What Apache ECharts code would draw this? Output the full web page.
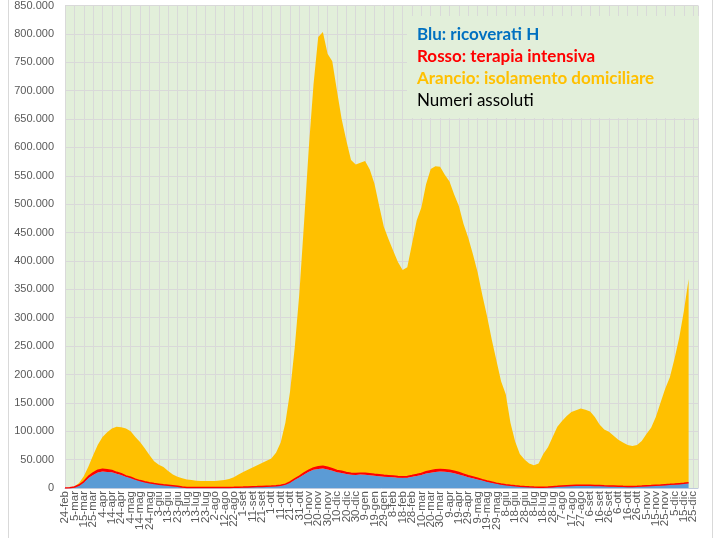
<!DOCTYPE html>
<html>
<head>
<meta charset="utf-8">
<script src="https://cdn.jsdelivr.net/npm/echarts@6/dist/echarts.min.js"></script>
<style>
  html, body { margin: 0; padding: 0; background: #fff; }
  #chart { width: 719px; height: 538px; }
</style>
</head>
<body>
<div id="chart"></div>
<script>
  // date ogni 5 giorni, 24-feb-2020 -> 30-dic-2021
  const categorie = ['24-feb','29-feb','5-mar','10-mar','15-mar','20-mar','25-mar','30-mar','4-apr','9-apr','14-apr','19-apr','24-apr','29-apr','4-mag','9-mag','14-mag','19-mag','24-mag','29-mag','3-giu','8-giu','13-giu','18-giu','23-giu','28-giu','3-lug','8-lug','13-lug','18-lug','23-lug','28-lug','2-ago','7-ago','12-ago','17-ago','22-ago','27-ago','1-set','6-set','11-set','16-set','21-set','26-set','1-ott','6-ott','11-ott','16-ott','21-ott','26-ott','31-ott','5-nov','10-nov','15-nov','20-nov','25-nov','30-nov','5-dic','10-dic','15-dic','20-dic','25-dic','30-dic',
    '4-gen','9-gen','14-gen','19-gen','24-gen','29-gen','3-feb','8-feb','13-feb','18-feb','23-feb','28-feb','5-mar','10-mar','15-mar','20-mar','25-mar','30-mar','4-apr','9-apr','14-apr','19-apr','24-apr','29-apr','4-mag','9-mag','14-mag','19-mag','24-mag','29-mag','3-giu','8-giu','13-giu','18-giu','23-giu','28-giu','3-lug','8-lug','13-lug','18-lug','23-lug','28-lug','2-ago','7-ago','12-ago','17-ago','22-ago','27-ago','1-set','6-set','11-set','16-set','21-set','26-set','1-ott','6-ott','11-ott','16-ott','21-ott','26-ott','31-ott','5-nov','10-nov','15-nov','20-nov','25-nov','30-nov','5-dic','10-dic','15-dic','20-dic','25-dic','30-dic'];

  const ricoverati = [100, 400, 1300, 4300, 9700, 17700, 23100, 27400, 29000, 28400,
    27600, 25000, 22900, 19700, 17400, 14600, 12200, 10300, 8700, 7400,
    6400, 5300, 4600, 3900, 3000, 1500, 1000, 900, 800, 750,
    730, 730, 750, 780, 850, 950, 1100, 1300, 1500, 1800,
    2100, 2300, 2600, 2900, 3100, 3500, 4500, 6200, 9700, 14500,
    18900, 24000, 28600, 32000, 33600, 34400, 32800, 30400, 27800, 26400,
    24500, 23200, 22900, 23600, 23400, 22500, 21600, 20800, 20000, 19500,
    18900, 18000, 17900, 18200, 19600, 21100, 23000, 25400, 26900, 28400,
    29000, 28600, 27700, 26000, 24000, 21500, 18900, 17000, 15100, 13000,
    11000, 9300, 7600, 6200, 5100, 4100, 3400, 2800, 2300, 1900,
    1500, 1300, 1200, 1400, 2000, 2600, 3200, 3600, 3900, 4100,
    4200, 4200, 4200, 4000, 3700, 3400, 3200, 3000, 2800, 2600,
    2500, 2500, 2600, 2900, 3300, 3700, 4200, 4600, 5200, 5600,
    6100, 6700, 7300, 8400];

  const terapiaIntensiva = [30, 100, 350, 880, 1670, 2650, 3400, 3980, 4050, 3600,
    3200, 2600, 2100, 1700, 1480, 1030, 850, 680, 550, 450,
    400, 300, 220, 170, 120, 100, 80, 70, 60, 50,
    45, 40, 40, 50, 60, 70, 75, 90, 110, 140,
    170, 200, 230, 260, 280, 320, 420, 640, 930, 1400,
    1940, 2500, 2970, 3400, 3700, 3850, 3700, 3500, 3200, 3000,
    2700, 2600, 2500, 2600, 2600, 2550, 2450, 2350, 2250, 2150,
    2100, 2050, 2070, 2170, 2300, 2550, 2750, 3080, 3360, 3600,
    3700, 3680, 3600, 3400, 3200, 2900, 2600, 2400, 2100, 1800,
    1500, 1200, 1000, 850, 700, 550, 450, 370, 300, 230,
    200, 170, 160, 190, 240, 300, 370, 440, 500, 540,
    560, 560, 560, 540, 500, 470, 440, 410, 390, 360,
    360, 350, 370, 410, 450, 500, 560, 620, 720, 800,
    840, 890, 950, 1010];

  const isolamento = [90, 400, 1100, 3700, 9300, 17500, 31000, 45000, 57000, 66000,
    74000, 80500, 82000, 83500, 81000, 74400, 68000, 59000, 48700, 39200,
    34200, 31400, 25200, 19900, 16900, 15400, 13900, 13000, 12100, 11700,
    11500, 11500, 11700, 12200, 13100, 15000, 17800, 22600, 26400, 30100,
    33700, 37500, 41200, 44800, 48600, 58200, 75100, 108200, 159400, 232100,
    324200, 443500, 568400, 675600, 757000, 765000, 728500, 718100, 669000, 620600,
    584800, 552200, 544600, 546800, 550000, 536000, 512000, 473900, 437800, 416400,
    397000, 378000, 364000, 368600, 408100, 447400, 468300, 506500, 531700, 535000,
    533300, 519700, 508700, 487600, 469800, 440600, 419500, 392600, 362800, 325200,
    290500, 251500, 216400, 181000, 159200, 110400, 78200, 56800, 47400, 40900,
    38300, 41500, 58600, 70400, 87800, 105100, 114400, 123000, 129600, 132400,
    135200, 133200, 130200, 120500, 107800, 99100, 95400, 88600, 81800, 77000,
    73100, 71200, 73000, 79700, 91300, 101800, 120200, 144800, 169100, 188600,
    221100, 257400, 303800, 358600];

  const legendaRighe = [
    {text: 'Blu: ricoverati H', color: '#0070C0', bold: true},
    {text: 'Rosso: terapia intensiva', color: '#FF0000', bold: true},
    {text: 'Arancio: isolamento domiciliare', color: '#FFC000', bold: true},
    {text: 'Numeri assoluti', color: '#000000', bold: false}
  ];

  function migliaia(v) {
    return String(v).replace(/\B(?=(\d{3})+(?!\d))/g, '.');
  }

  let chart = echarts.init(document.getElementById('chart'));

  let graphic = [
    {
      type: 'rect',
      shape: {x: 8.5, y: -5, width: 704, height: 550},
      style: {fill: 'none', stroke: '#d9d9d9', lineWidth: 1},
      silent: true
    },
    {
      type: 'rect',
      shape: {x: 407, y: 16, width: 292, height: 102},
      style: {fill: '#E2EFDA'},
      z: 10
    }
  ];
  legendaRighe.forEach((r, i) => {
    graphic.push({
      type: 'text',
      x: 417,
      y: 35 + i * 21.7,
      z: 11,
      style: {
        text: r.text,
        fill: r.color,
        font: (r.bold ? 'bold ' : '') + '17px Lato',
        verticalAlign: 'middle'
      }
    });
  });

  let option = {
    animation: false,
    backgroundColor: '#ffffff',
    grid: {
      left: 65,
      right: 21,
      top: 4,
      bottom: 50,
      show: true,
      backgroundColor: '#E2EFDA',
      borderWidth: 0
    },
    xAxis: {
      type: 'category',
      data: categorie,
      boundaryGap: false,
      axisLine: {show: true, lineStyle: {color: '#bfc9dc', width: 1}},
      axisTick: {show: false},
      axisLabel: {
        interval: 0,
        rotate: 90,
        hideOverlap: false,
        color: '#595959',
        fontSize: 11.5,
        fontFamily: 'Liberation Sans',
        margin: 3,
        // etichetta ogni 10 giorni
        formatter: (v, idx) => (idx % 2 === 0 ? v : '')
      },
      splitLine: {show: true, interval: 1, lineStyle: {color: '#d9d9d9', width: 1}}
    },
    yAxis: {
      type: 'value',
      min: 0,
      max: 850000,
      interval: 50000,
      axisLine: {show: false},
      axisTick: {show: false},
      axisLabel: {
        color: '#595959',
        fontSize: 11,
        fontFamily: 'Liberation Sans',
        margin: 11,
        formatter: migliaia
      },
      splitLine: {show: true, lineStyle: {color: '#d9d9d9', width: 1}}
    },
    series: [
      {
        name: 'ricoverati',
        type: 'line',
        stack: 'tot',
        data: ricoverati,
        symbol: 'none',
        lineStyle: {width: 0},
        areaStyle: {color: '#5B9BD5', opacity: 1},
        itemStyle: {color: '#5B9BD5'}
      },
      {
        name: 'terapia intensiva',
        type: 'line',
        stack: 'tot',
        data: terapiaIntensiva,
        symbol: 'none',
        lineStyle: {width: 1.5, color: '#FF0000'},
        areaStyle: {color: '#FF0000', opacity: 1},
        itemStyle: {color: '#FF0000'}
      },
      {
        name: 'isolamento',
        type: 'line',
        stack: 'tot',
        data: isolamento,
        symbol: 'none',
        lineStyle: {width: 0},
        areaStyle: {color: '#FFC000', opacity: 1},
        itemStyle: {color: '#FFC000'}
      }
    ],
    graphic: graphic
  };

  chart.setOption(option);
</script>
</body>
</html>
